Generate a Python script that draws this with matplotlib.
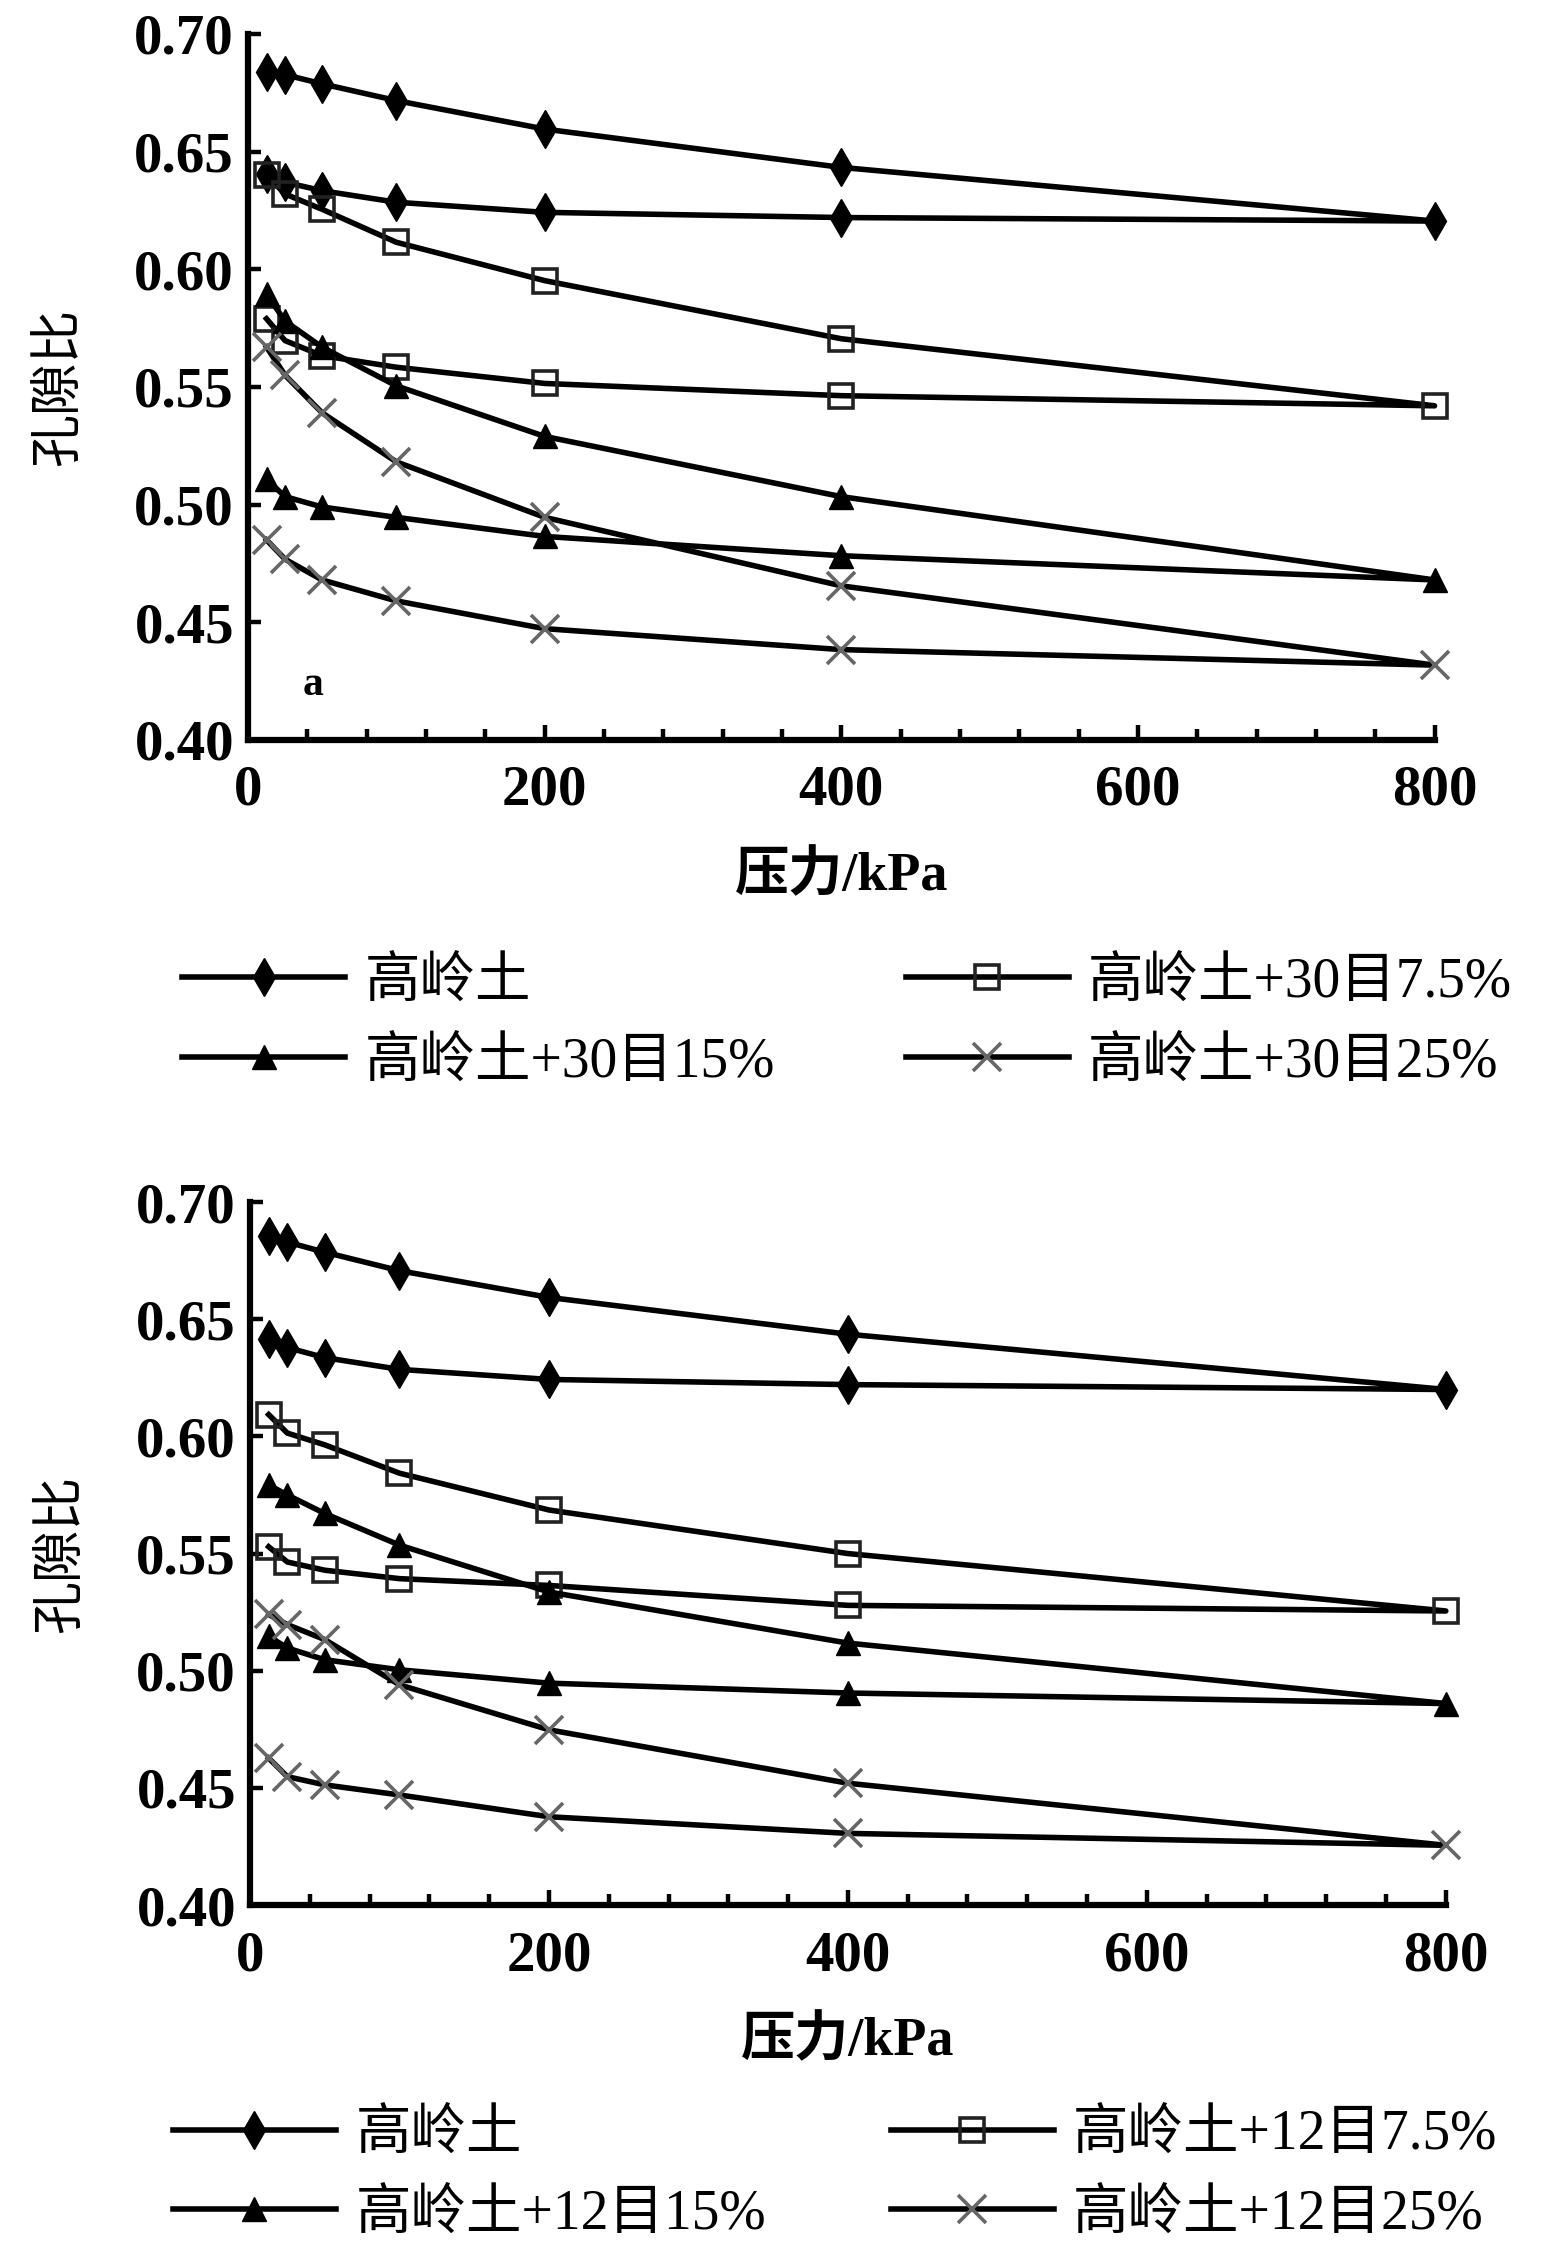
import matplotlib
matplotlib.use("Agg")
import matplotlib.pyplot as plt
from matplotlib.ticker import MultipleLocator

plt.rcParams['font.family'] = ['Liberation Serif', 'Noto Sans CJK SC']

pressure = [12.5, 25, 50, 100, 200, 400, 800]
unload_p = [400, 200, 100, 50, 25, 12.5]

# panel a: 30目
a_kaolin_load = [0.6837, 0.6827, 0.6788, 0.6717, 0.6596, 0.6433, 0.6205]
a_kaolin_unload = [0.6220, 0.6242, 0.6285, 0.6334, 0.6370, 0.6405]
a_75_load = [0.6400, 0.6320, 0.6255, 0.6115, 0.5952, 0.5705, 0.5420]
a_75_unload = [0.5463, 0.5515, 0.5584, 0.5633, 0.5697, 0.5790]
a_15_load = [0.5895, 0.5780, 0.5669, 0.5505, 0.5290, 0.5034, 0.4680]
a_15_unload = [0.4783, 0.4865, 0.4946, 0.4990, 0.5034, 0.5108]
a_25_load = [0.5670, 0.5550, 0.5390, 0.5182, 0.4946, 0.4655, 0.4318]
a_25_unload = [0.4384, 0.4473, 0.4591, 0.4680, 0.4768, 0.4850]

# panel b: 12目
b_kaolin_load = [0.6857, 0.6829, 0.6786, 0.6707, 0.6593, 0.6436, 0.6200]
b_kaolin_unload = [0.6221, 0.6243, 0.6286, 0.6336, 0.6379, 0.6414]
b_75_load = [0.6093, 0.6014, 0.5964, 0.5843, 0.5686, 0.5500, 0.5255]
b_75_unload = [0.5279, 0.5364, 0.5393, 0.5429, 0.5464, 0.5529]
b_15_load = [0.5793, 0.5750, 0.5671, 0.5536, 0.5336, 0.5118, 0.4860]
b_15_unload = [0.4905, 0.4947, 0.5004, 0.5047, 0.5097, 0.5147]
b_25_load = [0.5240, 0.5197, 0.5133, 0.4940, 0.4748, 0.4520, 0.4255]
b_25_unload = [0.4306, 0.4377, 0.4470, 0.4513, 0.4548, 0.4627]

labels_a = ["高岭土", "高岭土+30目7.5%", "高岭土+30目15%", "高岭土+30目25%"]
labels_b = ["高岭土", "高岭土+12目7.5%", "高岭土+12目15%", "高岭土+12目25%"]

styles = [
    dict(marker='d', ms=19, mfc='black', mec='black', mew=1),
    dict(marker='s', ms=17, mfc='none', mec='#222222', mew=2.6),
    dict(marker='^', ms=17, mfc='black', mec='black', mew=1),
    dict(marker='x', ms=20, mec='#666666', mew=2.6),
]

LABEL_FONT = 38
XLABEL_FONT = 39
TICK_FONT = 41
LEG_FONT = 40


def draw_panel(ax, series, labels, letter=None):
    handles = []
    for (load, unload), st, lab in zip(series, styles, labels):
        xs = pressure + unload_p
        ys = load + unload
        h, = ax.plot(xs, ys, color='black', lw=4.0, clip_on=False, label=lab, **st)
        handles.append(h)
    ax.set_xlim(0, 800)
    ax.set_ylim(0.40, 0.70)
    ax.spines['top'].set_visible(False)
    ax.spines['right'].set_visible(False)
    ax.spines['left'].set_linewidth(4.5)
    ax.spines['bottom'].set_linewidth(4.5)
    ax.xaxis.set_major_locator(MultipleLocator(200))
    ax.xaxis.set_minor_locator(MultipleLocator(40))
    ax.yaxis.set_major_locator(MultipleLocator(0.05))
    ax.yaxis.set_major_formatter(matplotlib.ticker.FormatStrFormatter('%.2f'))
    ax.tick_params(axis='x', which='major', direction='in', length=11, width=3.2, pad=18)
    ax.tick_params(axis='x', which='minor', direction='in', length=8, width=3.2)
    ax.tick_params(axis='y', which='major', direction='in', length=9, width=3.2, pad=10)
    for t in ax.get_xticklabels() + ax.get_yticklabels():
        t.set_fontsize(TICK_FONT)
        t.set_fontweight('bold')
    ax.set_ylabel("孔隙比", fontsize=LABEL_FONT, labelpad=36)
    ax.set_xlabel("压力/kPa", fontsize=XLABEL_FONT, fontweight='bold', labelpad=24)
    if letter:
        ax.text(0.055, 0.078, letter, transform=ax.transAxes, fontsize=30,
                fontweight='bold', ha='center', va='center')
    return handles


fig = plt.figure(figsize=(15.45, 22.65), dpi=100)
ax1 = fig.add_axes([0.1605, 0.6733, 0.768, 0.3117])
ax2 = fig.add_axes([0.1618, 0.1589, 0.774, 0.3104])

series_a = [(a_kaolin_load, a_kaolin_unload), (a_75_load, a_75_unload),
            (a_15_load, a_15_unload), (a_25_load, a_25_unload)]
series_b = [(b_kaolin_load, b_kaolin_unload), (b_75_load, b_75_unload),
            (b_15_load, b_15_unload), (b_25_load, b_25_unload)]

ha = draw_panel(ax1, series_a, labels_a, letter='a')
hb = draw_panel(ax2, series_b, labels_b)

order = [0, 2, 1, 3]
fig.legend([ha[i] for i in order], [labels_a[i] for i in order],
           loc='center left', bbox_to_anchor=(0.118, 0.5485), ncol=2,
           frameon=False, fontsize=LEG_FONT, handlelength=2.93, handletextpad=0.35,
           columnspacing=2.36, labelspacing=0.5, borderpad=0, borderaxespad=0)
fig.legend([hb[i] for i in order], [labels_b[i] for i in order],
           loc='center left', bbox_to_anchor=(0.112, 0.0398), ncol=2,
           frameon=False, fontsize=LEG_FONT, handlelength=2.93, handletextpad=0.35,
           columnspacing=2.25, labelspacing=0.5, borderpad=0, borderaxespad=0)

fig.savefig("out.png", dpi=100)
